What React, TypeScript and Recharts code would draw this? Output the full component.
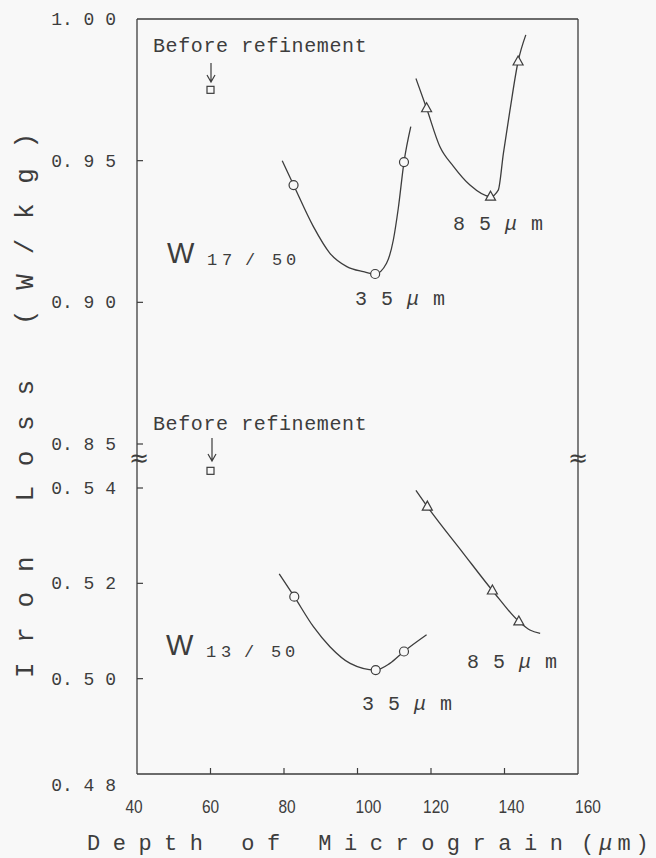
import { ComposedChart, Line, Scatter, XAxis, YAxis } from 'recharts'

const INK = '#3d3d3d'
const PAPER = '#f8f8f8'
const MONO = '"Liberation Mono", "DejaVu Sans Mono", monospace'

// depth of micrograin axis
const xTicks = [40, 60, 80, 100, 120, 140, 160]
// the scanned labels sit a little off their ticks
const xLabelNudge = [-3, 0, 3, 11, 5, 7, 10]

// iron loss axis, broken between 0.54 and 0.85
const yTicks = [0.48, 0.5, 0.52, 0.54, 0.85, 0.9, 0.95, 1.0]

// before refinement (square marks)
const beforeDepth = [60, 60]
const beforeLoss = [0.975, 0.5436]

// W17/50, 35 um
const w17Depth35 = [82.6, 104.8, 112.65]
const w17Loss35 = [0.9414, 0.91, 0.9495]
const w17CurveDepth35 = [79.5, 82.6, 88.0, 92.5, 97.1, 101.6, 104.8, 107.9, 109.75, 111.1, 112.65, 114.5]
const w17CurveLoss35 = [0.95, 0.9414, 0.9267, 0.9173, 0.9126, 0.9108, 0.91, 0.9138, 0.922, 0.9332, 0.9495, 0.962]

// W17/50, 85 um
const w17Depth85 = [118.8, 136.2, 143.7]
const w17Loss85 = [0.9685, 0.9373, 0.985]
const w17CurveDepth85 = [115.9, 118.8, 122.4, 126.1, 130.6, 136.2, 138.3, 139.7, 141.5, 143.7, 145.8]
const w17CurveLoss85 = [0.979, 0.9685, 0.955, 0.948, 0.9414, 0.9373, 0.9396, 0.9526, 0.9679, 0.985, 0.9944]

// W13/50, 35 um
const w13Depth35 = [82.8, 104.95, 112.65]
const w13Loss35 = [0.5172, 0.5018, 0.5057]
const w13CurveDepth35 = [78.7, 82.8, 88.0, 92.5, 98.0, 104.95, 108.8, 112.65, 118.8]
const w13CurveLoss35 = [0.522, 0.5172, 0.5109, 0.5067, 0.5032, 0.5018, 0.5032, 0.5057, 0.5092]

// W13/50, 85 um
const w13Depth85 = [119.0, 136.7, 143.9]
const w13Loss85 = [0.5361, 0.5185, 0.512]
const w13CurveDepth85 = [115.9, 119.0, 128.8, 136.7, 143.9, 146.9, 149.7]
const w13CurveLoss85 = [0.5395, 0.5361, 0.5263, 0.5185, 0.512, 0.5102, 0.5095]

// broken scale: lower block 0.48-0.54, upper block 0.85-1.00
const toAxis = (v: number) =>
  v < 0.7 ? ((v - 0.48) / 0.06) * 286 : 330 + ((v - 0.85) / 0.15) * 425

const pts = (xs: number[], ys: number[]) => xs.map((x, i) => ({ x, y: toAxis(ys[i]) }))

const tickLabel = (v: number) => {
  const s = v.toFixed(2)
  return `${s[0]}. ${s[2]} ${s[3]}`
}

const OpenCircle = (p: any) => (
  <circle cx={p.cx} cy={p.cy} r={4.5} fill={PAPER} stroke={INK} strokeWidth={1.2} />
)
const OpenTriangle = (p: any) => (
  <polygon
    points={`${p.cx},${p.cy - 5.5} ${p.cx - 5},${p.cy + 3.5} ${p.cx + 5},${p.cy + 3.5}`}
    fill={PAPER}
    stroke={INK}
    strokeWidth={1.2}
  />
)
const OpenSquare = (p: any) => (
  <rect x={p.cx - 3.5} y={p.cy - 3.5} width={7} height={7} fill={PAPER} stroke={INK} strokeWidth={1.2} />
)

const BottomTick = ({ x, y, payload, index }: any) => {
  const label = String(payload.value)
  return (
    <g>
      {index > 0 && index < xTicks.length - 1 && (
        <line x1={x} x2={x} y1={y} y2={y - 6} stroke={INK} strokeWidth={1.2} />
      )}
      <text
        x={x + xLabelNudge[index]}
        y={y + 39}
        textAnchor="middle"
        fontFamily="Liberation Sans"
        fontSize={19}
        textLength={label.length * 8.6}
        lengthAdjust="spacingAndGlyphs"
        fill={INK}
      >
        {label}
      </text>
    </g>
  )
}

const TopTick = ({ x, y, index }: any) =>
  index > 0 && index < xTicks.length - 1 ? (
    <line x1={x} x2={x} y1={y} y2={y + 6} stroke={INK} strokeWidth={1.2} />
  ) : (
    <g />
  )

const LeftTick = ({ x, y, index }: any) => (
  <g>
    {index > 0 && index < yTicks.length - 1 && (
      <line x1={x} x2={x + 6} y1={y} y2={y} stroke={INK} strokeWidth={1.2} />
    )}
    <text
      x={x - 21}
      y={y + 6 + (index === 0 ? 11 : 0)}
      textAnchor="end"
      fontFamily={MONO}
      fontSize={18}
      fill={INK}
    >
      {tickLabel(yTicks[index])}
    </text>
  </g>
)

const RightTick = ({ x, y, index }: any) =>
  index > 0 && index < yTicks.length - 1 ? (
    <line x1={x} x2={x - 6} y1={y} y2={y} stroke={INK} strokeWidth={1.2} />
  ) : (
    <g />
  )

const curves = [
  pts(w17CurveDepth35, w17CurveLoss35),
  pts(w17CurveDepth85, w17CurveLoss85),
  pts(w13CurveDepth35, w13CurveLoss35),
  pts(w13CurveDepth85, w13CurveLoss85),
]

const textStyle = { fontFamily: MONO, fill: INK }

// W with a spaced subscript like "17/50"
const LossLabel = ({ x, y, sub }: { x: number; y: number; sub: string }) => {
  const [a, b] = sub.split('/')
  return (
    <g>
      <text x={x} y={y} fontFamily="Liberation Sans" fontSize={29} fill={INK}>W</text>
      <text x={x + 40} y={y + 2} fontSize={17} letterSpacing={4.8} {...textStyle}>{a}</text>
      <text x={x + 83} y={y + 2} fontSize={17} textAnchor="middle" {...textStyle}>/</text>
      <text x={x + 105} y={y + 2} fontSize={17} letterSpacing={3.8} {...textStyle}>{b}</text>
    </g>
  )
}

const DepthLabel = ({ x, y, depth }: { x: number; y: number; depth: string }) => (
  <text x={x} y={y} fontSize={20} letterSpacing={1} {...textStyle}>
    {depth.split('').join(' ')} <tspan fontStyle="italic">μ</tspan> m
  </text>
)

export default function App() {
  return (
    <div style={{ position: 'absolute', left: 0, top: 0, width: 656, height: 858, background: PAPER }}>
      <ComposedChart width={656} height={858} margin={{ top: 9, right: 68, bottom: 44, left: 77 }}>
        <XAxis
          xAxisId="bottom"
          dataKey="x"
          type="number"
          domain={[40, 160]}
          ticks={xTicks}
          interval={0}
          height={40}
          tickSize={0}
          tickMargin={0}
          tickLine={false}
          axisLine={{ stroke: INK, strokeWidth: 1.3 }}
          tick={(p: any) => <BottomTick {...p} />}
        />
        <XAxis
          xAxisId="top"
          orientation="top"
          dataKey="x"
          type="number"
          domain={[40, 160]}
          ticks={xTicks}
          interval={0}
          height={10}
          tickSize={0}
          tickMargin={0}
          tickLine={false}
          axisLine={{ stroke: INK, strokeWidth: 1.3 }}
          tick={(p: any) => <TopTick {...p} />}
        />
        <YAxis
          yAxisId="left"
          type="number"
          domain={[0, 755]}
          ticks={yTicks.map(toAxis)}
          interval={0}
          width={60}
          tickSize={0}
          tickMargin={0}
          tickLine={false}
          axisLine={{ stroke: INK, strokeWidth: 1.3 }}
          tick={(p: any) => <LeftTick {...p} />}
        />
        <YAxis
          yAxisId="right"
          orientation="right"
          type="number"
          domain={[0, 755]}
          ticks={yTicks.map(toAxis)}
          interval={0}
          width={10}
          tickSize={0}
          tickMargin={0}
          tickLine={false}
          axisLine={{ stroke: INK, strokeWidth: 1.3 }}
          tick={(p: any) => <RightTick {...p} />}
        />

        {curves.map((d, i) => (
          <Line
            key={i}
            data={d}
            dataKey="y"
            xAxisId="bottom"
            yAxisId="left"
            type="monotone"
            stroke={INK}
            strokeWidth={1.3}
            dot={false}
            activeDot={false}
            isAnimationActive={false}
          />
        ))}

        <Scatter data={pts(w17Depth35, w17Loss35)} dataKey="y" xAxisId="bottom" yAxisId="left" shape={OpenCircle} isAnimationActive={false} />
        <Scatter data={pts(w13Depth35, w13Loss35)} dataKey="y" xAxisId="bottom" yAxisId="left" shape={OpenCircle} isAnimationActive={false} />
        <Scatter data={pts(w17Depth85, w17Loss85)} dataKey="y" xAxisId="bottom" yAxisId="left" shape={OpenTriangle} isAnimationActive={false} />
        <Scatter data={pts(w13Depth85, w13Loss85)} dataKey="y" xAxisId="bottom" yAxisId="left" shape={OpenTriangle} isAnimationActive={false} />
        <Scatter data={pts(beforeDepth, beforeLoss)} dataKey="y" xAxisId="bottom" yAxisId="left" shape={OpenSquare} isAnimationActive={false} />

        {/* axis titles */}
        <text transform="translate(33, 678) rotate(-90)" fontSize={26} letterSpacing={19.7} {...textStyle}>
          Iron Loss (W/kg)
        </text>
        <text x={87} y={850} fontSize={22} letterSpacing={12.5} {...textStyle}>
          Depth of Micrograin
        </text>
        <text x={581} y={850} fontSize={22} letterSpacing={5} {...textStyle}>
          (<tspan fontStyle="italic">μ</tspan>m)
        </text>

        {/* axis break marks */}
        <text x={139} y={466} textAnchor="middle" fontFamily="DejaVu Sans" fontSize={24} fill={INK}>≈</text>
        <text x={578} y={466} textAnchor="middle" fontFamily="DejaVu Sans" fontSize={24} fill={INK}>≈</text>

        {/* before refinement notes */}
        <text x={153} y={52} fontSize={20} letterSpacing={0.6} {...textStyle}>Before refinement</text>
        <path d="M211,63 L211,82 M207,75 L211,82 L215,75" stroke={INK} strokeWidth={1.2} fill="none" />
        <text x={153} y={430} fontSize={20} letterSpacing={0.6} {...textStyle}>Before refinement</text>
        <path d="M212,438 L212,461 M208,454 L212,461 L216,454" stroke={INK} strokeWidth={1.2} fill="none" />

        {/* block labels */}
        <LossLabel x={167} y={263} sub="17/50" />
        <LossLabel x={166} y={655} sub="13/50" />

        {/* depth labels */}
        <DepthLabel x={355} y={305} depth="35" />
        <DepthLabel x={453} y={230} depth="85" />
        <DepthLabel x={362} y={710} depth="35" />
        <DepthLabel x={467} y={668} depth="85" />
      </ComposedChart>
    </div>
  )
}
